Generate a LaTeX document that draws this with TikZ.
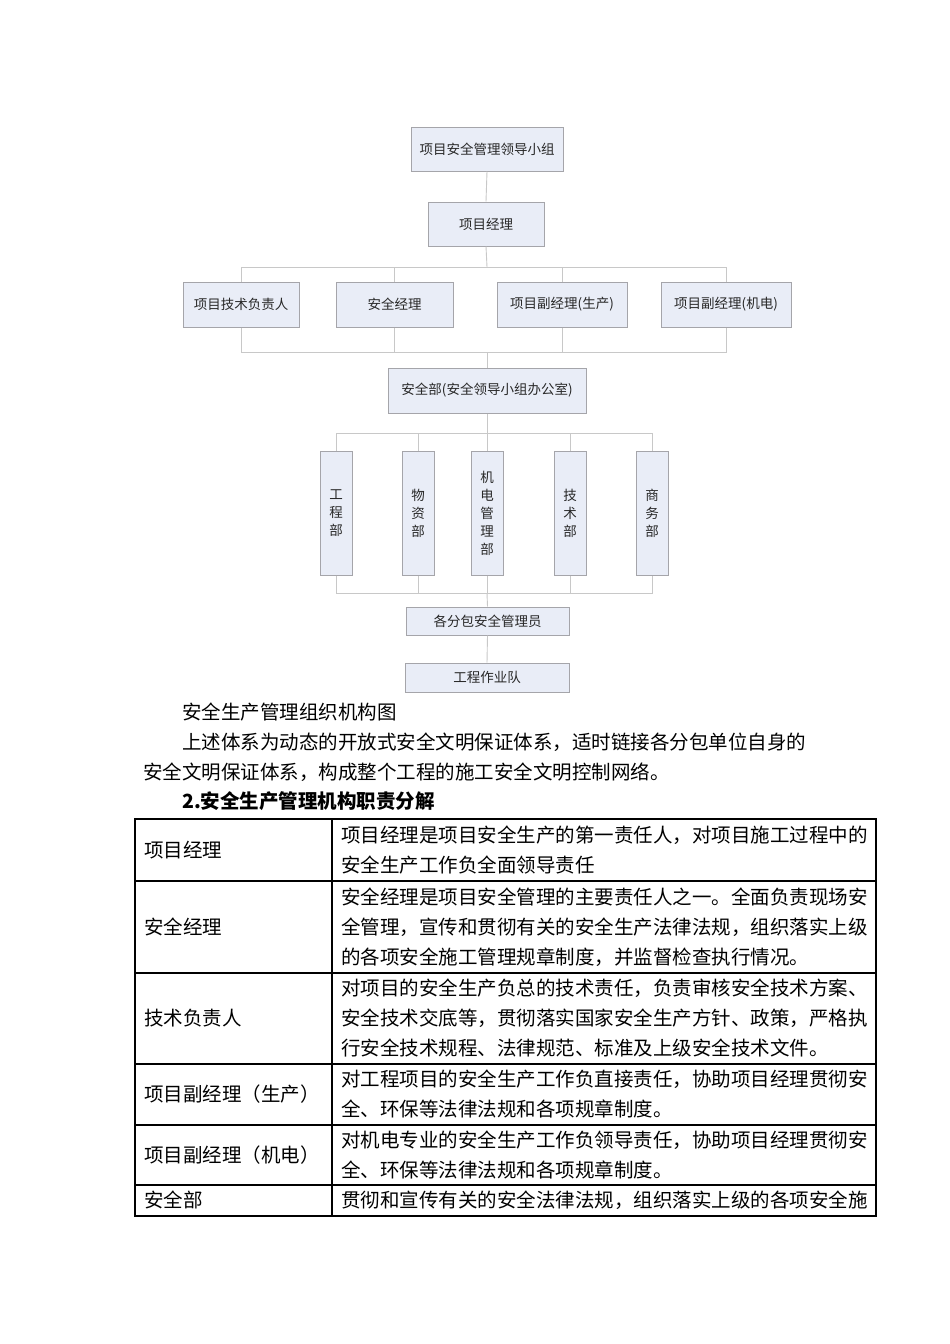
\documentclass[tikz,border=0pt]{standalone}
\usepackage{fontspec}
\newfontfamily\cjk{Noto Sans CJK SC}
\usetikzlibrary{shadows}
\definecolor{boxfill}{RGB}{233,237,247}
\definecolor{boxline}{RGB}{165,165,170}
\definecolor{conn}{RGB}{200,200,200}
\definecolor{chartText}{RGB}{40,40,40}
\begin{document}
\begin{tikzpicture}[x=1pt,y=-1pt,
  orgbox/.style={draw=boxline, fill=boxfill, line width=1pt, inner sep=0pt, align=center,
    drop shadow={shadow xshift=1pt, shadow yshift=-1pt, opacity=0.25},
    font=\cjk\fontsize{13.5}{18}\selectfont, text=chartText},
  link/.style={draw=conn, line width=0.9pt},
  para/.style={anchor=west, inner sep=0pt, font=\cjk\fontsize{19.5}{30}\selectfont},
  cell/.style={anchor=west, inner sep=0pt, align=left, font=\cjk\fontsize{19.5}{30}\selectfont},
  tabinner/.style={draw=black, line width=1.2pt},
  tabouter/.style={draw=black, line width=2.2pt},
]
\useasboundingbox[fill=white] (0,0) rectangle (950,1344);

\coordinate (bus1) at (487,267);
\coordinate (bus2) at (487,352);
\coordinate (bus3) at (487,433);
\coordinate (bus4) at (487,593);

% ---------- org chart ----------
\node[orgbox, minimum width=152, minimum height=44] (A) at (487,149) {项目安全管理领导小组};
\node[orgbox, minimum width=116, minimum height=44] (B) at (486,224) {项目经理};

\node[orgbox, minimum width=116, minimum height=45] (r1) at (241,304.5) {项目技术负责人};
\node[orgbox, minimum width=117, minimum height=45] (r2) at (394.5,304.5) {安全经理};
\node[orgbox, minimum width=130, minimum height=45] (r3) at (562,304.5) {项目副经理(生产)};
\node[orgbox, minimum width=130, minimum height=45] (r4) at (726,304.5) {项目副经理(机电)};

\node[orgbox, minimum width=198, minimum height=45] (S) at (487,390.5) {安全部(安全领导小组办公室)};

\node[orgbox, minimum width=32, minimum height=124] (d1) at (336,513) {工\\程\\部};
\node[orgbox, minimum width=32, minimum height=124] (d2) at (418,513) {物\\资\\部};
\node[orgbox, minimum width=32, minimum height=124] (d3) at (487,513) {机\\电\\管\\理\\部};
\node[orgbox, minimum width=32, minimum height=124] (d4) at (570,513) {技\\术\\部};
\node[orgbox, minimum width=32, minimum height=124] (d5) at (652,513) {商\\务\\部};

\node[orgbox, minimum width=163, minimum height=28] (P) at (487.5,621) {各分包安全管理员};
\node[orgbox, minimum width=164, minimum height=29] (Q) at (487,677.5) {工程作业队};

\draw[link] (A.south) -- (B.north);
\draw[link] (B.south) -- (bus1);
\draw[link] (r1.north) -- (r1.north |- bus1) -- (r4.north |- bus1) -- (r4.north);
\draw[link] (r2.north) -- (r2.north |- bus1);
\draw[link] (r3.north) -- (r3.north |- bus1);

\draw[link] (r1.south) -- (r1.south |- bus2) -- (r4.south |- bus2) -- (r4.south);
\draw[link] (r2.south) -- (r2.south |- bus2);
\draw[link] (r3.south) -- (r3.south |- bus2);
\draw[link] (bus2) -- (S.north);

\draw[link] (S.south) -- (bus3);
\draw[link] (d1.north) -- (d1.north |- bus3) -- (d5.north |- bus3) -- (d5.north);
\draw[link] (d2.north) -- (d2.north |- bus3);
\draw[link] (d3.north) -- (d3.north |- bus3);
\draw[link] (d4.north) -- (d4.north |- bus3);

\draw[link] (d1.south) -- (d1.south |- bus4) -- (d5.south |- bus4) -- (d5.south);
\draw[link] (d2.south) -- (d2.south |- bus4);
\draw[link] (d3.south) -- (d3.south |- bus4);
\draw[link] (d4.south) -- (d4.south |- bus4);
\draw[link] (bus4) -- (P.north);
\draw[link] (P.south) -- (Q.north);

% ---------- text ----------
\node[para] (t1) at (182,712) {安全生产管理组织机构图};
\node[para] (t2) at (182,742) {上述体系为动态的开放式安全文明保证体系，适时链接各分包单位自身的};
\node[para] (t3) at (143,772) {安全文明保证体系，构成整个工程的施工安全文明控制网络。};
\node[para, font=\cjk\bfseries\fontsize{19.5}{30}\selectfont] (t4) at (182,801) {2.安全生产管理机构职责分解};

% ---------- table ----------
\draw[tabinner] (135,881) -- (876,881);
\draw[tabinner] (135,973) -- (876,973);
\draw[tabinner] (135,1064) -- (876,1064);
\draw[tabinner] (135,1125) -- (876,1125);
\draw[tabinner] (135,1185) -- (876,1185);
\draw[tabinner] (332,819) -- (332,1216);
\draw[tabouter] (135,819) rectangle (876,1216);

\node[cell] (c1l) at (144,850) {项目经理};
\node[cell] (c1r) at (341,850) {项目经理是项目安全生产的第一责任人，对项目施工过程中的\\安全生产工作负全面领导责任};
\node[cell] (c2l) at (144,927) {安全经理};
\node[cell] (c2r) at (341,927) {安全经理是项目安全管理的主要责任人之一。全面负责现场安\\全管理，宣传和贯彻有关的安全生产法律法规，组织落实上级\\的各项安全施工管理规章制度，并监督检查执行情况。};
\node[cell] (c3l) at (144,1018) {技术负责人};
\node[cell] (c3r) at (341,1018) {对项目的安全生产负总的技术责任，负责审核安全技术方案、\\安全技术交底等，贯彻落实国家安全生产方针、政策，严格执\\行安全技术规程、法律规范、标准及上级安全技术文件。};
\node[cell] (c4l) at (144,1094) {项目副经理（生产）};
\node[cell] (c4r) at (341,1094) {对工程项目的安全生产工作负直接责任，协助项目经理贯彻安\\全、环保等法律法规和各项规章制度。};
\node[cell] (c5l) at (144,1155) {项目副经理（机电）};
\node[cell] (c5r) at (341,1155) {对机电专业的安全生产工作负领导责任，协助项目经理贯彻安\\全、环保等法律法规和各项规章制度。};
\node[cell] (c6l) at (144,1200) {安全部};
\node[cell] (c6r) at (341,1200) {贯彻和宣传有关的安全法律法规，组织落实上级的各项安全施};
\end{tikzpicture}
\end{document}
